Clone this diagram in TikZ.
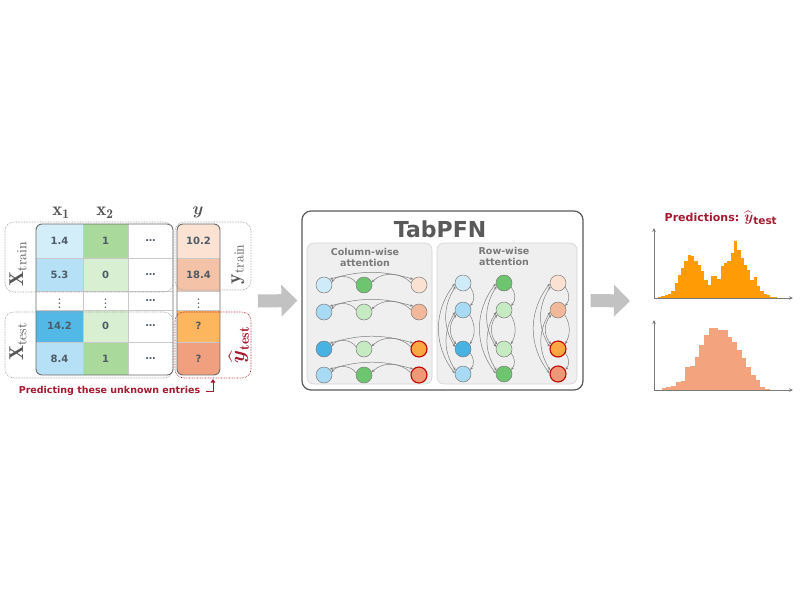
\documentclass[tikz,border=0pt]{standalone}
\usepackage{amsmath}
\usepackage{fontspec}
\newfontfamily\dvsans{DejaVu Sans}
\usetikzlibrary{arrows.meta}

\definecolor{txtgray}{HTML}{555555}
\definecolor{numgray}{HTML}{4E5A65}
\definecolor{labgray}{HTML}{7A7A7A}
\definecolor{grpgray}{HTML}{9A9A9A}
\definecolor{tabgray}{HTML}{6A6A6A}
\definecolor{cellline}{HTML}{C9C9C9}
\definecolor{darkred}{HTML}{A6192E}
\definecolor{hotred}{HTML}{C00000}
\definecolor{arrgray}{HTML}{C2C2C2}
\definecolor{framegray}{HTML}{595959}
\definecolor{panelbg}{HTML}{EFEFEF}
\definecolor{panelline}{HTML}{D4D4D4}
\definecolor{dotgray}{HTML}{7C7C7C}
\definecolor{attgray}{HTML}{7F7F7F}
% table cells
\definecolor{bluelt}{HTML}{D3EDF9}
\definecolor{bluemd}{HTML}{B5E0F5}
\definecolor{bluedk}{HTML}{52B8E6}
\definecolor{greenlt}{HTML}{D8EFD1}
\definecolor{greendk}{HTML}{A9DA9B}
\definecolor{peachlt}{HTML}{FBE2D3}
\definecolor{peachmd}{HTML}{F4C2A6}
\definecolor{orangec}{HTML}{FDB55E}
\definecolor{salmonc}{HTML}{F0A07E}
% attention dots
\definecolor{cblt}{HTML}{CFEAF8}
\definecolor{cbmd}{HTML}{A8DAF3}
\definecolor{cbdk}{HTML}{48B2E2}
\definecolor{cgdk}{HTML}{6DC66F}
\definecolor{cglt}{HTML}{C6EAC1}
\definecolor{cplt}{HTML}{FBE1D2}
\definecolor{cpmd}{HTML}{F2B89A}
\definecolor{corng}{HTML}{FBA743}
\definecolor{csalm}{HTML}{EE9877}
% histograms
\definecolor{histone}{HTML}{FF9B05}
\definecolor{histtwo}{HTML}{F3A47E}
\definecolor{axisgray}{HTML}{7A7A7A}

\tikzset{
  num/.style={font=\dvsans\bfseries\fontsize{10}{12}\selectfont, text=numgray, inner sep=0pt},
  vdot/.style={font=\bfseries\fontsize{11}{12}\selectfont, text=numgray, inner sep=0pt},
  grpbox/.style={draw=grpgray, line width=0.6pt, dash pattern=on 0.7pt off 0.9pt, rounded corners=9pt},
  tabframe/.style={draw=tabgray, line width=0.9pt, rounded corners=6pt},
  dot/.style={circle, draw=dotgray, line width=0.5pt, minimum size=16pt, inner sep=0pt},
  hot/.style={draw=hotred, line width=1.1pt},
  att/.style={draw=attgray, line width=0.5pt},
  blockarrow/.style={draw=arrgray, line width=13pt, -{Triangle[length=16pt,width=31pt]}},
  paneltxt/.style={font=\dvsans\bfseries\fontsize{9.5}{11}\selectfont, text=labgray, align=center},
  sidelbl/.style={rotate=90, font=\fontsize{20}{22}\selectfont, text=txtgray},
  headlbl/.style={font=\fontsize{19}{21}\selectfont, text=txtgray},
  axisline/.style={draw=axisgray, line width=0.8pt, -{Stealth[length=4pt,width=3.5pt]}},
}

\begin{document}
\begin{tikzpicture}[x=1pt,y=-1pt,>={Stealth[length=3pt,width=2.6pt]}]
\useasboundingbox (0,0) rectangle (800,600);

% ---- table
\begin{scope}
\clip[rounded corners=6pt] (36,224) rectangle (173,375);
\foreach \ya/\yb/\ca/\cb in {224/258/bluelt/greendk, 258/291/bluemd/greenlt, 291/310/white/white, 310/342/bluedk/greenlt, 342/375/bluemd/greendk}
{
  \fill[\ca] (36,\ya) rectangle (83,\yb);
  \fill[\cb] (83,\ya) rectangle (128,\yb);
}
\end{scope}
\begin{scope}
\clip[rounded corners=6pt] (177,224) rectangle (220,375);
\fill[peachlt] (177,224) rectangle (220,258);
\fill[peachmd] (177,258) rectangle (220,291);
\fill[orangec] (177,310) rectangle (220,342);
\fill[salmonc] (177,342) rectangle (220,375);
\end{scope}
\foreach \yy in {258,291,310,342}
{
  \draw[cellline, line width=0.5pt] (36,\yy) -- (173,\yy);
  \draw[cellline, line width=0.5pt] (177,\yy) -- (220,\yy);
}
\draw[cellline, line width=0.5pt] (83,224) -- (83,375);
\draw[cellline, line width=0.5pt] (128,224) -- (128,375);
\draw[tabframe] (36,224) rectangle (173,375);
\draw[tabframe] (177,224) rectangle (220,375);

\node[num] (v11) at (59.5,241) {1.4};
\node[num] (v12) at (105.5,241) {1};
\node[num] (v13) at (150.5,241) {\ldots};
\node[num] (v14) at (198.5,241) {10.2};
\node[num] (v21) at (59.5,274.5) {5.3};
\node[num] (v22) at (105.5,274.5) {0};
\node[num] (v23) at (150.5,274.5) {\ldots};
\node[num] (v24) at (198.5,274.5) {18.4};
\node[vdot] (v31) at (59.5,300.5) {$\vdots$};
\node[vdot] (v32) at (105.5,300.5) {$\vdots$};
\node[num] (v33) at (150.5,300.5) {\ldots};
\node[vdot] (v34) at (198.5,300.5) {$\vdots$};
\node[num] (v41) at (59.5,326) {14.2};
\node[num] (v42) at (105.5,326) {0};
\node[num] (v43) at (150.5,326) {\ldots};
\node[num] (v44) at (198.5,326) {?};
\node[num] (v51) at (59.5,358.5) {8.4};
\node[num] (v52) at (105.5,358.5) {1};
\node[num] (v53) at (150.5,358.5) {\ldots};
\node[num] (v54) at (198.5,358.5) {?};

% headers
\node[headlbl] (hx1) at (61,213) {$\mathbf{x}_{\mathbf{1}}$};
\node[headlbl] (hx2) at (105,213) {$\mathbf{x}_{\mathbf{2}}$};
\node[headlbl] (hy) at (198,212) {$\boldsymbol{y}$};

% group boxes
\draw[grpbox] (5,222) rectangle (173,292);
\draw[grpbox] (5,312) rectangle (173,378);
\draw[grpbox] (175,222) rectangle (251,290);
\draw[grpbox, draw=darkred] (175,312) rectangle (251,378);
\node[sidelbl] (xtrain) at (18,264) {$\mathbf{X}_{\mathrm{train}}$};
\node[sidelbl] (xtest) at (18,342) {$\mathbf{X}_{\mathrm{test}}$};
\node[sidelbl] (ytrain) at (238,264) {$\mathbf{y}_{\mathrm{train}}$};
\node[sidelbl, text=darkred] (ytest) at (239,345) {$\widehat{\boldsymbol{y}}_{\mathbf{test}}$};

\node[font=\dvsans\bfseries\fontsize{9.5}{11}\selectfont, text=darkred] (pred) at (109.5,391) {Predicting these unknown entries};
\coordinate (ytb) at (213,379);
\draw[darkred, line width=1pt, -{Triangle[length=3.5pt,width=4.5pt]}] ([xshift=2pt]pred.east) -| (ytb);

% ---- TabPFN
\node[draw=framegray, line width=1.2pt, rounded corners=9pt, minimum width=281pt, minimum height=179pt, fill=white] (tabpfn) at (442.5,300.5) {};
\node[font=\dvsans\bfseries\fontsize{22}{26}\selectfont, text=framegray] (title) at (440,229) {TabPFN};
\node[fill=panelbg, draw=panelline, line width=0.6pt, rounded corners=7pt, minimum width=125pt, minimum height=141pt] (colpanel) at (369.5,313.5) {};
\node[fill=panelbg, draw=panelline, line width=0.6pt, rounded corners=7pt, minimum width=140pt, minimum height=141pt] (rowpanel) at (507,313.5) {};
\node[paneltxt] (collbl) at (365,257.5) {Column-wise\\attention};
\node[paneltxt] (rowlbl) at (504,256) {Row-wise\\attention};

% column-wise dots
\node[dot, fill=cblt] (c11) at (324,285) {};
\node[dot, fill=cgdk] (c12) at (364,285) {};
\node[dot, fill=cplt] (c13) at (419,285) {};
\node[dot, fill=cbmd] (c21) at (324,312) {};
\node[dot, fill=cglt] (c22) at (364,312) {};
\node[dot, fill=cpmd] (c23) at (419,312) {};
\node[dot, fill=cbdk] (c31) at (324,349) {};
\node[dot, fill=cglt] (c32) at (364,349) {};
\node[dot, fill=corng, hot] (c33) at (419,349) {};
\node[dot, fill=cbmd] (c41) at (324,375) {};
\node[dot, fill=cgdk] (c42) at (364,375) {};
\node[dot, fill=csalm, hot] (c43) at (419,375) {};
\foreach \r in {1,...,4}
{
  \draw[att,<->] (c\r1.north east) to[bend left=16] (c\r3.north west);
  \draw[att,->] (c\r2.165) to[bend right=55] (c\r1.20);
  \draw[att,->] (c\r3.165) to[bend right=45] (c\r2.20);
}

% row-wise dots
\node[dot, fill=cblt] (r11) at (463,283) {};
\node[dot, fill=cbmd] (r21) at (463,310) {};
\node[dot, fill=cbdk] (r31) at (463,349) {};
\node[dot, fill=cbmd] (r41) at (463,374) {};
\node[dot, fill=cgdk] (r12) at (504,283) {};
\node[dot, fill=cglt] (r22) at (504,310) {};
\node[dot, fill=cglt] (r32) at (504,349) {};
\node[dot, fill=cgdk] (r42) at (504,374) {};
\node[dot, fill=cplt] (r13) at (558,283) {};
\node[dot, fill=cpmd] (r23) at (558,310) {};
\node[dot, fill=corng, hot] (r33) at (558,349) {};
\node[dot, fill=csalm, hot] (r43) at (558,374) {};
\foreach \c in {1,2,3}
{
  \draw[att,<->] (r1\c.185) to[bend right=38] (r4\c.175);
  \draw[att,<->] (r1\c.205) to[bend right=32] (r3\c.165);
  \draw[att,<->] (r2\c.195) to[bend right=32] (r4\c.155);
  \draw[att,<->] (r2\c.215) to[bend right=40] (r3\c.145);
  \draw[att,->] (r1\c.-30) to[bend left=40] (r2\c.30);
  \draw[att,->] (r2\c.-35) to[bend left=30] (r3\c.35);
  \draw[att,->] (r3\c.-30) to[bend left=40] (r4\c.30);
}

% ---- block arrows
\coordinate (arA) at (258,301);
\coordinate (arB) at (630,301);
\draw[blockarrow] (arA) -- ([xshift=-4pt]tabpfn.west);
\draw[blockarrow] ([xshift=7pt]tabpfn.east) -- (arB);

% ---- predictions
\node[anchor=base, font=\dvsans\bfseries\fontsize{11}{13}\selectfont, text=darkred] (predtitle) at (721,221.5) {Predictions: {\fontsize{15}{15}\selectfont$\widehat{\boldsymbol{y}}_{\text{\dvsans\bfseries test}}$}};
\foreach \h [count=\i from 0] in {1,1.7,2.7,4,6.7,15,23.3,30,36.7,42.7,41.7,37.3,33.3,26.7,18.3,13.3,21.7,21.7,19.3,31.7,35,36.7,45,57.3,48.3,40,33.3,28.3,18.3,20.7,11.7,6.7,4,2.7,1.3,0.7}
  \fill[histone] ({658+3.3*\i},298) rectangle ++(3.35,-\h);
\draw[axisline] (654,298) -- (654,228);
\draw[axisline] (654,298) -- (793,298);
\foreach \h [count=\i from 0] in {1.7,2.7,4,8.3,9.3,23.3,24,33.3,45,55,61.7,61.7,60,60,53.3,48.3,40,31.7,23.3,15,10,2.7,1}
  \fill[histtwo] ({661.7+4.7*\i},390) rectangle ++(4.75,-\h);
\draw[axisline] (654,390) -- (654,320);
\draw[axisline] (654,390) -- (793,390);
\end{tikzpicture}
\end{document}
